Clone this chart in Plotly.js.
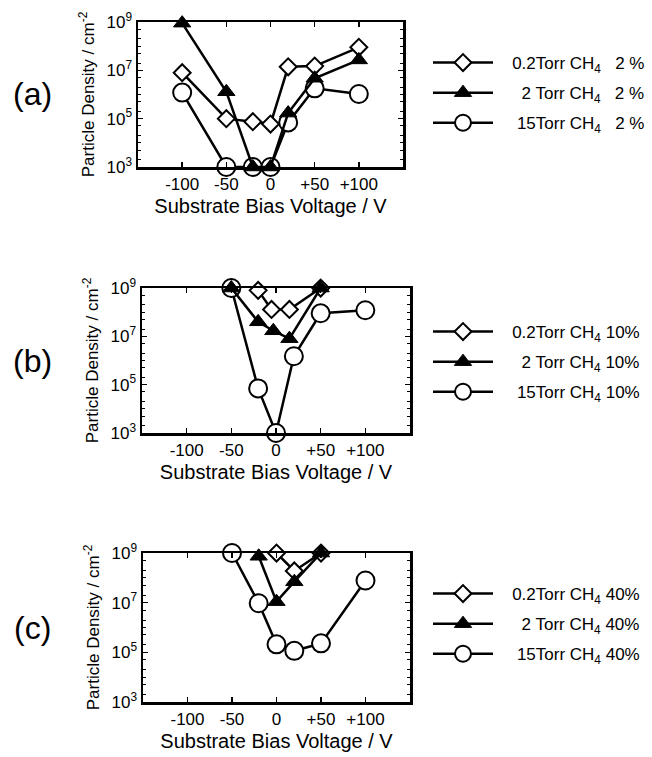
<!DOCTYPE html>
<html>
<head>
<meta charset="utf-8">
<script src="https://cdn.plot.ly/plotly-3.0.1.min.js"></script>
<style>html,body{margin:0;padding:0;background:#fff;}#chart{width:652px;height:757px;}</style>
</head>
<body>
<div id="chart"></div>
<script>
// ---- data ----
const panelLabels = ['(a)', '(b)', '(c)'];
const concLabels = ['\u00a0\u00a02 %', '10%', '40%'];
const seriesNames = ['0.2Torr CH<sub>4</sub>', '\u00a0\u00a02 Torr CH<sub>4</sub>', '\u00a015Torr CH<sub>4</sub>'];
const xTickVals = [-100, -50, 0, 50, 100];
const xTickText = ['-100', '-50', '0', '+50', '+100'];
const yTickVals = [1e3, 1e5, 1e7, 1e9];
const yTickText = ['10<sup>3</sup>', '10<sup>5</sup>', '10<sup>7</sup>', '10<sup>9</sup>'];

// panel (a)  CH4 2 %
const aDiamondX = [-100, -50, -20, 0, 20, 50, 100];
const aDiamondY = [8e6, 1e5, 7.5e4, 6e4, 1.4e7, 1.5e7, 9e7];
const aTriangleX = [-100, -50, -20, 0, 20, 50, 100];
const aTriangleY = [9e8, 1.3e6, 1e3, 1e3, 1.7e5, 4.7e6, 2.7e7];
const aCircleX = [-100, -50, -20, 0, 20, 50, 100];
const aCircleY = [1.2e6, 1e3, 1e3, 1e3, 7e4, 1.8e6, 1.05e6];

// panel (b)  CH4 10 %
const bDiamondX = [-20, -5, 15, 50];
const bDiamondY = [8e8, 1.3e8, 1.3e8, 1e9];
const bTriangleX = [-50, -20, -3, 15, 50];
const bTriangleY = [1e9, 4e7, 1.7e7, 8e6, 1e9];
const bCircleX = [-50, -20, 0, 20, 50, 100];
const bCircleY = [1e9, 7e4, 1e3, 1.5e6, 9e7, 1.2e8];

// panel (c)  CH4 40 %
const cDiamondX = [0, 20, 50];
const cDiamondY = [1e9, 1.9e8, 1e9];
const cTriangleX = [-20, 0, 20, 50];
const cTriangleY = [7.4e8, 1.1e7, 7e7, 1e9];
const cCircleX = [-50, -20, 0, 20, 50, 100];
const cCircleY = [1e9, 9.5e6, 2.1e5, 1.15e5, 2.3e5, 7.8e7];

const panels = [
  {d: [aDiamondX, aDiamondY], t: [aTriangleX, aTriangleY], c: [aCircleX, aCircleY]},
  {d: [bDiamondX, bDiamondY], t: [bTriangleX, bTriangleY], c: [bCircleX, bCircleY]},
  {d: [cDiamondX, cDiamondY], t: [cTriangleX, cTriangleY], c: [cCircleX, cCircleY]}
];

// ---- styling / layout ----
const W = 652, H = 757;
const FONT = 'Liberation Sans, Arial, Helvetica, sans-serif';
const boxes = [ // plot frames in pixels: left, right, top, bottom
  [138, 403, 22, 167],
  [142, 410, 288, 433],
  [143, 410, 553, 702]
];
const legendRows = [93, 362, 624];
const PAD = '\u00a0\u00a0\u00a0';

const markerStyles = {
  d: {symbol: 'diamond', size: 13, color: '#fff', line: {color: '#000', width: 2}},
  t: {symbol: 'triangle-up', size: 15, color: '#000', line: {color: '#000', width: 1}},
  c: {symbol: 'circle', size: 18, color: '#fff', line: {color: '#000', width: 2}}
};
const order = ['c', 'd', 't'];      // drawing order (triangles on top)
const rank = {d: 1, t: 2, c: 3};    // legend order
const nameIdx = {d: 0, t: 1, c: 2};

const data = [];
const layout = {
  width: W, height: H,
  margin: {l: 0, r: 0, t: 0, b: 0},
  paper_bgcolor: '#fff', plot_bgcolor: '#fff',
  font: {family: FONT, color: '#000', size: 17},
  showlegend: true,
  annotations: []
};

panels.forEach((p, i) => {
  const sfx = i === 0 ? '' : String(i + 1);
  const legId = 'legend' + sfx;
  order.forEach(k => {
    data.push({
      type: 'scatter', mode: 'lines+markers',
      x: p[k][0], y: p[k][1],
      xaxis: 'x' + sfx, yaxis: 'y' + sfx,
      name: PAD + seriesNames[nameIdx[k]] + '\u00a0' + concLabels[i],
      legend: legId, legendrank: rank[k], legendgroup: 'g' + i + rank[k],
      line: {color: '#000', width: 2.5},
      marker: markerStyles[k],
      cliponaxis: false
    });
  });
  const b = boxes[i];
  layout['xaxis' + sfx] = {
    domain: [b[0] / W, b[1] / W], anchor: 'y' + sfx,
    range: [-150, 150], tickmode: 'array', tickvals: xTickVals, ticktext: xTickText,
    ticks: 'inside', ticklen: 5, tickwidth: 1.5, tickcolor: '#000',
    showline: true, linewidth: 2.5, linecolor: '#000', mirror: 'allticks',
    showgrid: false, zeroline: false,
    tickfont: {family: FONT, size: 17, color: '#000'},
    title: {text: 'Substrate Bias Voltage / V', font: {family: FONT, size: 20, color: '#000'}, standoff: 6}
  };
  layout['yaxis' + sfx] = {
    domain: [1 - b[3] / H, 1 - b[2] / H], anchor: 'x' + sfx,
    type: 'log', range: [2.999, 9.001], tickmode: 'array', tickvals: yTickVals, ticktext: yTickText,
    ticks: 'inside', ticklen: 5, tickwidth: 1.5, tickcolor: '#000',
    minor: {ticks: 'inside', ticklen: 3, tickwidth: 1, tickcolor: '#000', dtick: 'D2', showgrid: false},
    showline: true, linewidth: 2.5, linecolor: '#000', mirror: 'allticks',
    showgrid: false, zeroline: false,
    tickfont: {family: FONT, size: 17, color: '#000'},
    title: {text: 'Particle Density / cm<sup>-2</sup>', font: {family: FONT, size: 17, color: '#000'}, standoff: 8}
  };
  layout[legId] = {
    x: 428 / W, xanchor: 'left', y: 1 - legendRows[i] / H, yanchor: 'middle',
    bgcolor: 'rgba(0,0,0,0)', borderwidth: 0,
    font: {family: FONT, size: 17, color: '#000'},
    itemwidth: 60, tracegroupgap: 5, traceorder: 'grouped'
  };
  layout.annotations.push({
    xref: 'paper', yref: 'paper', x: 32 / W, y: 1 - ((b[2] + b[3]) / 2) / H,
    xanchor: 'center', yanchor: 'middle', showarrow: false,
    text: panelLabels[i], font: {family: FONT, size: 32, color: '#000'}
  });
});

Plotly.newPlot('chart', data, layout, {displayModeBar: false, staticPlot: true});
</script>
</body>
</html>
